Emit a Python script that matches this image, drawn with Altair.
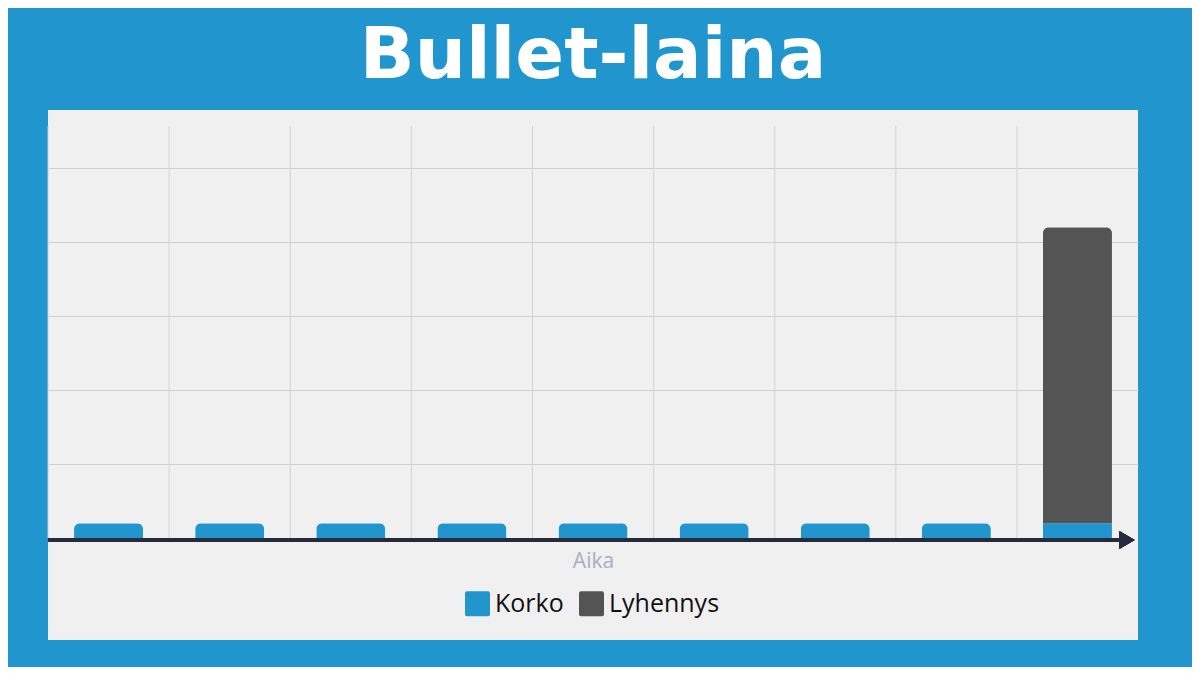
import altair as alt
import pandas as pd

periods = ["1", "2", "3", "4", "5", "6", "7", "8", "9"]
korko = [0.2, 0.2, 0.2, 0.2, 0.2, 0.2, 0.2, 0.2, 0.2]
lyhennys = [0, 0, 0, 0, 0, 0, 0, 0, 4.0]
series = ["Korko", "Lyhennys"]
colors = ["#2196CE", "#545454"]
grid_values = [1, 2, 3, 4, 5]
y_top = 5.57

rows = []
for p, k, l in zip(periods, korko, lyhennys):
    rows.append({"period": p, "type": "Korko", "value": k, "ord": 0})
    rows.append({"period": p, "type": "Lyhennys", "value": l, "ord": 1})
df = pd.DataFrame(rows)
df_periods = pd.DataFrame({"period": periods})

BG = "#2196CE"
FONT = "Open Sans"

x_scale = alt.Scale(domain=periods, paddingInner=0.43, paddingOuter=0.215)
y_scale = alt.Scale(domain=[0, y_top], range=[428, 16], nice=False, zero=True)

x_axis = alt.Axis(labels=False, ticks=False, domain=False, grid=False, title="Aika",
                  offset=-100, titlePadding=10, titleFontSize=21, titleFont=FONT,
                  titleFontWeight="normal", titleColor="#A7AEC6")
y_axis = alt.Axis(values=grid_values, labels=False, ticks=False, domain=False, grid=True,
                  gridColor="#CFCFCF", gridWidth=1, title=None)

# vertical grid lines on the boundaries between periods
vgrid = alt.Chart(df_periods).mark_rule(color="#D2D2D2", strokeWidth=1, xOffset=-60.5).encode(
    x=alt.X("period:N", scale=x_scale, axis=x_axis, bandPosition=0.5, sort=periods),
    y=alt.Y(datum=y_top, type="quantitative", scale=y_scale, axis=y_axis),
    y2=alt.Y2(datum=0),
)

square = ("M-0.84,-1L0.84,-1Q1,-1 1,-0.84L1,0.84Q1,1 0.84,1L-0.84,1Q-1,1 -1,0.84"
          "L-1,-0.84Q-1,-1 -0.84,-1Z")

bars = alt.Chart(df).mark_bar(cornerRadiusEnd=6).encode(
    x=alt.X("period:N", scale=x_scale, axis=x_axis, sort=periods),
    y=alt.Y("value:Q", stack="zero", scale=y_scale, axis=y_axis),
    color=alt.Color("type:N", scale=alt.Scale(domain=series, range=colors),
                    legend=alt.Legend(orient="none", legendX=417, legendY=481,
                                      direction="horizontal", title=None,
                                      symbolType=square, symbolSize=625,
                                      symbolStrokeWidth=0, symbolOpacity=1,
                                      labelFontSize=25, labelFont=FONT,
                                      labelColor="#111111", labelOffset=5,
                                      columnPadding=15, padding=0)),
    order=alt.Order("ord:Q"),
)

axis_line = alt.Chart(df_periods).mark_rule(color="#262B3D", strokeWidth=3.5, yOffset=2).encode(
    x=alt.value(0), x2=alt.value(1074),
    y=alt.Y(datum=0, type="quantitative", scale=y_scale),
)

arrow = alt.Chart(df_periods).mark_point(shape="triangle-right", filled=True, opacity=1,
                                          color="#262B3D", size=300, yOffset=2).encode(
    x=alt.value(1079),
    y=alt.Y(datum=0, type="quantitative", scale=y_scale),
)

chart = alt.layer(vgrid, bars, axis_line, arrow).properties(
    width=1090, height=530,
    padding={"left": 40, "top": 102, "right": 54, "bottom": 27},
    autosize=alt.AutoSizeParams(type="none"),
    background=BG,
    title=alt.Title("Bullet-laina", fontSize=72, font="DejaVu Sans", fontWeight="bold",
                    color="white", anchor="middle", baseline="alphabetic",
                    frame="group", offset=18, dy=58),
).configure_view(fill="#F0F0F0", stroke=None)

chart.save("out.html", embed_options={"renderer": "svg", "actions": False})
